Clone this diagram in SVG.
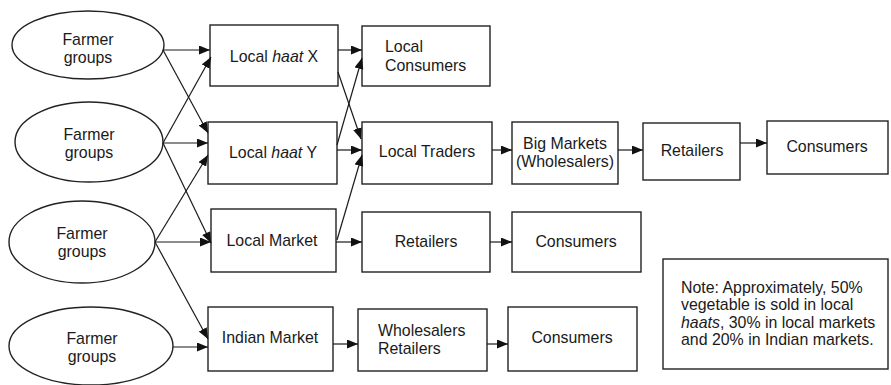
<svg xmlns="http://www.w3.org/2000/svg" width="891" height="385" viewBox="0 0 891 385">
  <style>
    .node { fill: #ffffff; stroke: #222222; stroke-width: 1.4; }
    .lbl { font-family: "Liberation Sans", Arial, Helvetica, sans-serif; font-size: 15.9px; fill: #1a1a1a; }
    .mid { text-anchor: middle; }
    .edge { stroke: #1a1a1a; stroke-width: 1.2; fill: none; marker-end: url(#arrow); }
  </style>
  <defs>
    <marker id="arrow" markerUnits="userSpaceOnUse" markerWidth="11" markerHeight="9" refX="11" refY="4.5" orient="auto">
      <path d="M0,0 L11,4.5 L0,9 z" fill="#111111"/>
    </marker>
  </defs>
  <rect width="891" height="385" fill="#ffffff"/>

  <!-- producer groups -->
  <g id="farmer-1">
    <ellipse class="node" cx="88" cy="45" rx="76" ry="34"/>
    <text class="lbl mid" x="88" y="45">Farmer</text>
    <text class="lbl mid" x="88" y="63">groups</text>
  </g>
  <g id="farmer-2">
    <ellipse class="node" cx="89" cy="142" rx="74" ry="40"/>
    <text class="lbl mid" x="89" y="140">Farmer</text>
    <text class="lbl mid" x="89" y="158">groups</text>
  </g>
  <g id="farmer-3">
    <ellipse class="node" cx="82" cy="242" rx="73" ry="41"/>
    <text class="lbl mid" x="82" y="239">Farmer</text>
    <text class="lbl mid" x="82" y="257">groups</text>
  </g>
  <g id="farmer-4">
    <ellipse class="node" cx="91" cy="346" rx="82" ry="39"/>
    <text class="lbl mid" x="92" y="344">Farmer</text>
    <text class="lbl mid" x="92" y="362">groups</text>
  </g>

  <!-- first-level markets -->
  <g id="haat-x">
    <rect class="node" x="210" y="25" width="128" height="61"/>
    <text class="lbl mid" x="274" y="62">Local <tspan font-style="italic">haat</tspan> X</text>
  </g>
  <g id="haat-y">
    <rect class="node" x="208" y="122" width="129" height="62"/>
    <text class="lbl mid" x="273" y="158">Local <tspan font-style="italic">haat</tspan> Y</text>
  </g>
  <g id="local-market">
    <rect class="node" x="211" y="209" width="125" height="63"/>
    <text class="lbl mid" x="272" y="246">Local Market</text>
  </g>
  <g id="indian-market">
    <rect class="node" x="208" y="307" width="125" height="64"/>
    <text class="lbl mid" x="270" y="343">Indian Market</text>
  </g>

  <!-- downstream nodes -->
  <g id="local-consumers">
    <rect class="node" x="362" y="26" width="128" height="60"/>
    <text class="lbl" x="385" y="52">Local</text>
    <text class="lbl" x="385" y="71">Consumers</text>
  </g>
  <g id="local-traders">
    <rect class="node" x="362" y="122" width="130" height="62"/>
    <text class="lbl mid" x="427" y="157">Local Traders</text>
  </g>
  <g id="big-markets">
    <rect class="node" x="512" y="122" width="106" height="62"/>
    <text class="lbl mid" x="565" y="149">Big Markets</text>
    <text class="lbl mid" x="565" y="167">(Wholesalers)</text>
  </g>
  <g id="retailers-a">
    <rect class="node" x="643" y="123" width="97" height="57"/>
    <text class="lbl mid" x="692" y="156">Retailers</text>
  </g>
  <g id="consumers-a">
    <rect class="node" x="767" y="121" width="121" height="53"/>
    <text class="lbl mid" x="827" y="152">Consumers</text>
  </g>
  <g id="retailers-b">
    <rect class="node" x="362" y="212" width="128" height="60"/>
    <text class="lbl mid" x="426" y="247">Retailers</text>
  </g>
  <g id="consumers-b">
    <rect class="node" x="512" y="212" width="129" height="60"/>
    <text class="lbl mid" x="576" y="247">Consumers</text>
  </g>
  <g id="wholesalers-retailers">
    <rect class="node" x="358" y="309" width="129" height="62"/>
    <text class="lbl" x="378" y="336">Wholesalers</text>
    <text class="lbl" x="378" y="354">Retailers</text>
  </g>
  <g id="consumers-c">
    <rect class="node" x="508" y="307" width="129" height="64"/>
    <text class="lbl mid" x="572" y="343">Consumers</text>
  </g>

  <!-- note -->
  <g id="note">
    <rect class="node" x="663" y="259" width="225" height="110"/>
    <text class="lbl" x="681" y="293">Note: Approximately, 50%</text>
    <text class="lbl" x="681" y="310">vegetable is sold in local</text>
    <text class="lbl" x="681" y="328"><tspan font-style="italic">haats</tspan>, 30% in local markets</text>
    <text class="lbl" x="681" y="345">and 20% in Indian markets.</text>
  </g>

  <!-- connectors -->
  <g id="connectors">
    <line class="edge" x1="163" y1="50" x2="210" y2="50"/>
    <line class="edge" x1="163" y1="50" x2="208" y2="133"/>
    <line class="edge" x1="163" y1="143" x2="208" y2="143"/>
    <line class="edge" x1="163" y1="143" x2="211" y2="57"/>
    <line class="edge" x1="163" y1="143" x2="211" y2="243"/>
    <line class="edge" x1="155" y1="242" x2="211" y2="242"/>
    <line class="edge" x1="155" y1="242" x2="208" y2="155"/>
    <line class="edge" x1="155" y1="242" x2="208" y2="339"/>
    <line class="edge" x1="173" y1="347" x2="208" y2="347"/>

    <line class="edge" x1="338" y1="50" x2="362" y2="50"/>
    <line class="edge" x1="338" y1="72" x2="361" y2="139"/>
    <line class="edge" x1="337" y1="150" x2="362" y2="150"/>
    <line class="edge" x1="337" y1="145" x2="362" y2="58"/>
    <line class="edge" x1="337" y1="240" x2="362" y2="155"/>
    <line class="edge" x1="336" y1="242" x2="362" y2="242"/>

    <line class="edge" x1="492" y1="150" x2="512" y2="150"/>
    <line class="edge" x1="618" y1="150" x2="643" y2="150"/>
    <line class="edge" x1="740" y1="143" x2="767" y2="143"/>
    <line class="edge" x1="490" y1="242" x2="512" y2="242"/>
    <line class="edge" x1="333" y1="344" x2="358" y2="344"/>
    <line class="edge" x1="487" y1="344" x2="508" y2="344"/>
  </g>
</svg>
